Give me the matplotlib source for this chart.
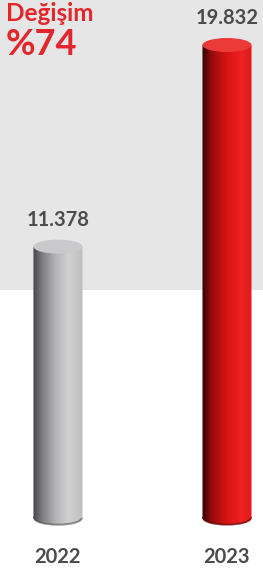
import numpy as np
import matplotlib.pyplot as plt
from matplotlib.patches import Ellipse, PathPatch, Arc
from matplotlib.path import Path
from matplotlib.transforms import Affine2D
from matplotlib.colors import LinearSegmentedColormap

years = ['2022', '2023']
values = [11378, 19832]
value_labels = ['11.378', '19.832']
change_title = 'Değişim'
change_pct = '%74'

plt.rcParams['font.family'] = ['Lato', 'DejaVu Sans']

body_cmaps = [
    LinearSegmentedColormap.from_list('g', [(0, '#444448'), (0.18, '#7c7c80'), (0.45, '#b4b4b6'),
                                            (0.72, '#d2d2d2'), (1, '#bdbdbd')]),
    LinearSegmentedColormap.from_list('r', [(0, '#2e0606'), (0.2, '#9a0c0c'), (0.5, '#d81414'),
                                            (0.8, '#ee2222'), (1, '#de1a1a')]),
]
top_colors = ['#c9c9cb', '#ec3a38']
rim_colors = ['#5a5a5e', '#5a0a0a']
red = '#e3262b'
dark = '#4b4b4d'

fig = plt.figure(figsize=(2.63, 5.73), dpi=100)
ax = fig.add_axes([0, 0, 1, 1])
ax.axis('off')

ymin, ymax = -2306, 21719
ax.axhspan(9560, ymax, color='#e6e6e6', zorder=0, lw=0)

w = 0.29   # cylinder width (x units)
eh = 587   # ellipse height (y units)
for i, v in enumerate(values):
    x0 = i - w / 2
    rect = Path([(x0, 0), (x0 + w, 0), (x0 + w, v), (x0, v), (x0, 0)],
                [Path.MOVETO, Path.LINETO, Path.LINETO, Path.LINETO, Path.CLOSEPOLY])
    ell = Path.unit_circle().transformed(Affine2D().scale(w / 2, eh / 2).translate(i, 0))
    clip = PathPatch(Path.make_compound_path(rect, ell), transform=ax.transData,
                     facecolor='none', edgecolor='none')
    ax.add_patch(clip)
    grad = np.linspace(0, 1, 256).reshape(1, -1)
    im = ax.imshow(grad, cmap=body_cmaps[i], extent=[x0, x0 + w, -eh, v],
                   aspect='auto', origin='lower', zorder=2)
    im.set_clip_path(clip)
    ax.add_patch(Arc((i, 0), w * 0.97, eh * 0.95, theta1=190, theta2=350,
                     color=rim_colors[i], lw=1.5, alpha=0.6, zorder=3))
    ax.add_patch(Ellipse((i, v), w, eh, facecolor=top_colors[i],
                         edgecolor='none', zorder=3))
    ax.text(i, v + 860, value_labels[i], ha='center', va='baseline',
            fontsize=14.5, fontweight='bold', color=dark, zorder=4)
    ax.text(i, -1890, years[i], ha='center', va='baseline',
            fontsize=14.5, fontweight='bold', color=dark, zorder=4)

fig.text(6 / 263, 1 - 21 / 573, change_title, ha='left', va='baseline',
         fontsize=17.5, fontweight='bold', color=red)
fig.text(6 / 263, 1 - 55 / 573, change_pct, ha='left', va='baseline',
         fontsize=26, fontweight='bold', color=red)

ax.set_xlim(-0.343, 1.213)
ax.set_ylim(ymin, ymax)
fig.savefig('out.png', dpi=100)
